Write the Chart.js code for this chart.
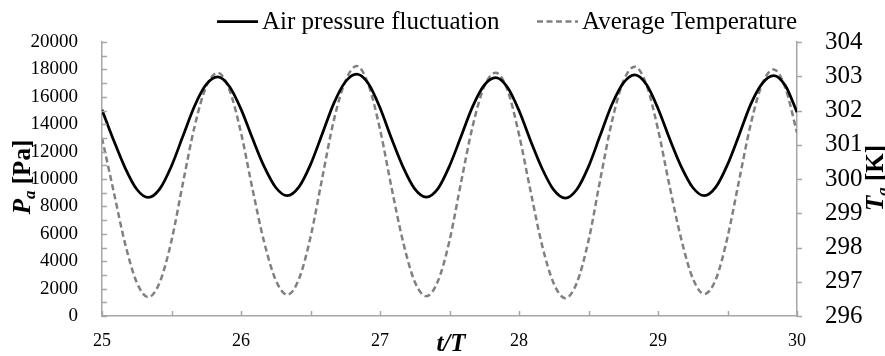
<!DOCTYPE html>
<html>
<head>
<meta charset="utf-8">
<script src="https://cdn.jsdelivr.net/npm/chart.js@4.4.1/dist/chart.umd.min.js"></script>
<style>
  html, body { margin: 0; padding: 0; background: #fff; }
</style>
</head>
<body>
<canvas id="cycleChart" width="885" height="356"></canvas>
<script>
// t/T sample points (1/12 of a period apart)
const timeSteps = [
  25.000, 25.083, 25.167, 25.250, 25.333, 25.417, 25.500, 25.583, 25.667, 25.750, 25.833, 25.917,
  26.000, 26.083, 26.167, 26.250, 26.333, 26.417, 26.500, 26.583, 26.667, 26.750, 26.833, 26.917,
  27.000, 27.083, 27.167, 27.250, 27.333, 27.417, 27.500, 27.583, 27.667, 27.750, 27.833, 27.917,
  28.000, 28.083, 28.167, 28.250, 28.333, 28.417, 28.500, 28.583, 28.667, 28.750, 28.833, 28.917,
  29.000, 29.083, 29.167, 29.250, 29.333, 29.417, 29.500, 29.583, 29.667, 29.750, 29.833, 29.917,
  30.000
];

// P_a [Pa]
const airPressure = [
  15050, 12850, 10800, 9250, 8650, 9300, 10950, 13150, 15350, 16900, 17450, 16750,
  15100, 12950, 10900, 9380, 8780, 9420, 11050, 13250, 15500, 17080, 17650, 16950,
  15200, 12950, 10850, 9280, 8680, 9300, 10950, 13100, 15300, 16850, 17400, 16700,
  15000, 12800, 10750, 9200, 8600, 9250, 10900, 13150, 15400, 17000, 17600, 16900,
  15150, 12950, 10900, 9380, 8780, 9420, 11050, 13200, 15450, 16980, 17550, 16800,
  14870
];

// T_a [K]
const avgTemperature = [
  301.20, 299.65, 298.10, 296.98, 296.55, 297.00, 298.20, 299.90, 301.55, 302.70, 303.10, 302.60,
  301.35, 299.70, 298.15, 297.05, 296.62, 297.08, 298.30, 300.00, 301.70, 302.85, 303.30, 302.75,
  301.45, 299.75, 298.15, 297.00, 296.58, 297.02, 298.20, 299.90, 301.55, 302.70, 303.10, 302.60,
  301.30, 299.65, 298.05, 296.95, 296.52, 296.98, 298.20, 299.95, 301.65, 302.85, 303.28, 302.75,
  301.45, 299.80, 298.25, 297.10, 296.64, 297.08, 298.30, 299.95, 301.60, 302.78, 303.20, 302.65,
  301.35
];

const seriesNames = ['Air pressure fluctuation', 'Average Temperature'];
const timeTicks = [25, 26, 27, 28, 29, 30];
const pressureTicks = [0, 2000, 4000, 6000, 8000, 10000, 12000, 14000, 16000, 18000, 20000];
const temperatureTicks = [296, 297, 298, 299, 300, 301, 302, 303, 304];

const serif = "'Liberation Serif', 'Times New Roman', serif";
const axisGray = '#a6a6a6';

const toPoints = (ys) => timeSteps.map((t, i) => ({ x: t, y: ys[i] }));
const plain = v => String(v);

// draws inside/outside tick marks, legend and axis titles with subscripts
const decorations = {
  id: 'decorations',
  afterDraw(chart) {
    const { ctx, chartArea: a, scales } = chart;
    const x = scales.x, yl = scales.yPressure, yr = scales.yTemp;
    ctx.save();
    ctx.strokeStyle = axisGray;
    ctx.lineWidth = 1.5;
    ctx.beginPath();
    for (let v = x.min; v <= x.max + 1e-9; v += 0.5) {
      const px = Math.round(x.getPixelForValue(v)) + 0.5;
      ctx.moveTo(px, a.bottom);
      ctx.lineTo(px, a.bottom - 5);
    }
    for (let v = yl.min; v <= yl.max; v += 1000) {
      const py = Math.round(yl.getPixelForValue(v)) + 0.5;
      ctx.moveTo(a.left, py);
      ctx.lineTo(a.left + 5, py);
    }
    for (let v = yr.min; v <= yr.max; v += 1) {
      const py = Math.round(yr.getPixelForValue(v)) + 0.5;
      ctx.moveTo(a.right, py);
      ctx.lineTo(a.right + 5, py);
    }
    ctx.stroke();

    // legend
    ctx.textBaseline = 'alphabetic';
    ctx.textAlign = 'left';
    ctx.font = '25px ' + serif;
    ctx.fillStyle = '#000';
    const legendStarts = [217, 537];
    chart.data.datasets.forEach((ds, i) => {
      const lx = legendStarts[i];
      ctx.strokeStyle = ds.borderColor;
      ctx.lineWidth = ds.borderWidth;
      ctx.setLineDash(ds.borderDash || []);
      ctx.beginPath();
      ctx.moveTo(lx, 21.5);
      ctx.lineTo(lx + 41, 21.5);
      ctx.stroke();
      ctx.setLineDash([]);
      ctx.fillText(ds.label, lx + 45, 29);
    });

    // axis titles
    const drawTitle = (parts, cx, cy, rot) => {
      ctx.save();
      ctx.translate(cx, cy);
      ctx.rotate(rot);
      let w = 0;
      parts.forEach(p => { ctx.font = p.font; w += ctx.measureText(p.text).width; });
      let px = -w / 2;
      parts.forEach(p => {
        ctx.font = p.font;
        ctx.fillText(p.text, px, 8 + (p.dy || 0));
        px += ctx.measureText(p.text).width;
      });
      ctx.restore();
    };
    const big = 'bold 25px ' + serif, bigIt = 'italic bold 25px ' + serif, sub = 'italic bold 17px ' + serif;
    drawTitle([{ text: 'P', font: bigIt }, { text: 'a', font: sub, dy: 5 }, { text: ' [Pa]', font: big }], 22, 177, -Math.PI / 2);
    drawTitle([{ text: 'T', font: bigIt }, { text: 'a', font: sub, dy: 5 }, { text: ' [K]', font: big }], 875, 178, -Math.PI / 2);
    drawTitle([{ text: 't/T', font: bigIt }], 451, 343, 0);
    ctx.restore();
  }
};

new Chart(document.getElementById('cycleChart'), {
  type: 'line',
  data: {
    datasets: [
      {
        label: seriesNames[0],
        data: toPoints(airPressure),
        yAxisID: 'yPressure',
        borderColor: '#000000',
        borderWidth: 2.75,
        pointRadius: 0,
        cubicInterpolationMode: 'monotone'
      },
      {
        label: seriesNames[1],
        data: toPoints(avgTemperature),
        yAxisID: 'yTemp',
        borderColor: '#808080',
        borderWidth: 2.5,
        borderDash: [6, 3.5],
        pointRadius: 0,
        cubicInterpolationMode: 'monotone'
      }
    ]
  },
  options: {
    responsive: false,
    animation: false,
    devicePixelRatio: 1,
    layout: { padding: { top: 42, left: 0, right: 0, bottom: 0 } },
    plugins: { legend: { display: false }, tooltip: { enabled: false } },
    scales: {
      x: {
        type: 'linear',
        min: 25,
        max: 30,
        afterBuildTicks: s => { s.ticks = timeTicks.map(v => ({ value: v })); },
        afterFit: s => { s.height = 40; },
        grid: { display: false },
        border: { display: true, color: axisGray, width: 1.5 },
        ticks: { padding: 6, color: '#000', callback: plain, font: { family: serif, size: 18 } }
      },
      yPressure: {
        position: 'left',
        min: 0,
        max: 20000,
        afterBuildTicks: s => { s.ticks = pressureTicks.map(v => ({ value: v })); },
        afterFit: s => { s.width = 102; },
        grid: { display: false },
        border: { display: true, color: axisGray, width: 1.5 },
        ticks: { padding: 16, color: '#000', callback: plain, font: { family: serif, size: 19 } }
      },
      yTemp: {
        position: 'right',
        min: 296,
        max: 304,
        afterBuildTicks: s => { s.ticks = temperatureTicks.map(v => ({ value: v })); },
        afterFit: s => { s.width = 88; },
        grid: { display: false },
        border: { display: true, color: axisGray, width: 1.5 },
        ticks: { padding: 20, color: '#000', callback: plain, font: { family: serif, size: 25 } }
      }
    }
  },
  plugins: [decorations]
});
</script>
</body>
</html>
